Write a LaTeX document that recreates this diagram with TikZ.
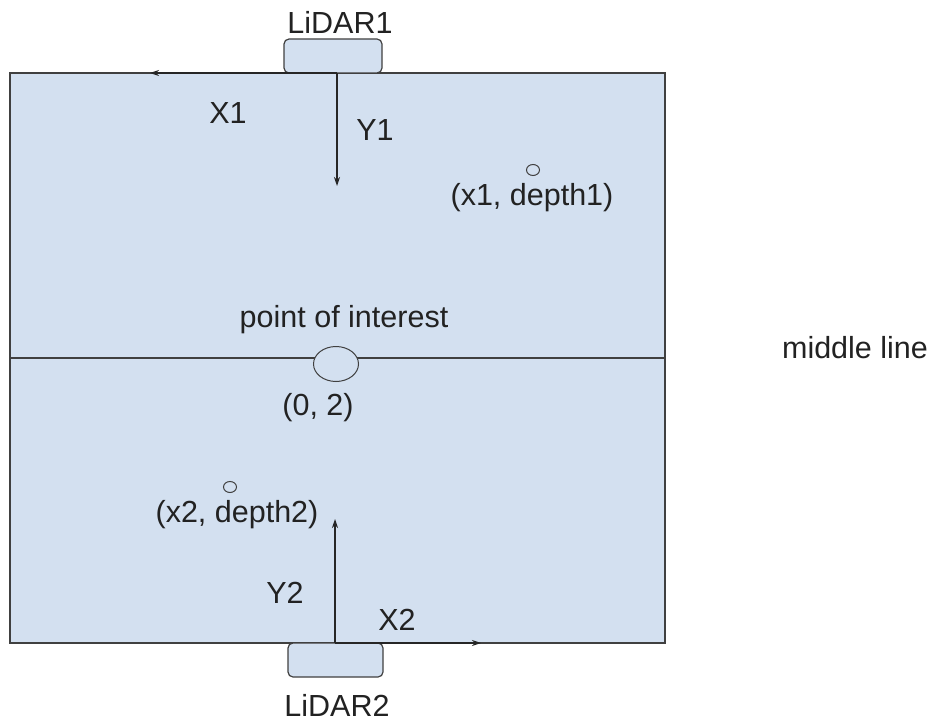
\documentclass[tikz,border=0pt]{standalone}
\usepackage{fontspec}
\setmainfont{Liberation Sans}
\usetikzlibrary{arrows.meta}
\usetikzlibrary{shapes.geometric}
\definecolor{fieldblue}{RGB}{211,224,240}
\definecolor{edgegray}{RGB}{64,64,64}
\definecolor{txt}{RGB}{34,34,34}
\tikzset{
  field/.style={draw=edgegray, fill=fieldblue, line width=1.3pt, inner sep=0pt},
  sensor/.style={draw=edgegray, fill=fieldblue, line width=1.2pt, rounded corners=5pt, inner sep=0pt, minimum height=34pt},
  lbl/.style={inner sep=0pt, text=txt, font=\fontsize{30.5}{36}\selectfont},
  axis/.style={draw=black!85, line width=1.2pt, -{Stealth[length=9pt,width=6pt]}},
  dot/.style={draw=edgegray, line width=1pt, ellipse, inner sep=0pt}
}
\begin{document}
\begin{tikzpicture}[x=1pt,y=-1pt]
\useasboundingbox (0,0) rectangle (936,722);
\node[field, minimum width=655pt, minimum height=570pt] (fld) at (337.5,358) {};
\draw[edgegray, line width=1.3pt] (fld.west) -- (fld.east);
\node[sensor, minimum width=98pt] (lidar1) at (333,56) {};
\node[sensor, minimum width=95pt] (lidar2) at (335.5,660) {};
\node[lbl] (l1) at (340,22) {LiDAR1};
\node[lbl] (l2) at (337,705) {LiDAR2};
\coordinate (o1) at (337,73);
\coordinate (x1e) at (150,73);
\coordinate (y1e) at (337,186);
\draw[axis] (o1) -- (x1e);
\draw[axis] (o1) -- (y1e);
\node[lbl] (x1l) at (228,113) {X1};
\node[lbl] (y1l) at (375,130) {Y1};
\coordinate (o2) at (335,643);
\coordinate (x2e) at (481,643);
\coordinate (y2e) at (335,519);
\draw[axis] (o2) -- (x2e);
\draw[axis] (o2) -- (y2e);
\node[lbl] (x2l) at (397,620) {X2};
\node[lbl] (y2l) at (285,593) {Y2};
\node[dot, minimum width=45pt, minimum height=35pt, fill=fieldblue] (poi) at (336,364) {};
\node[lbl] (poil) at (344,320) {point of interest};
\node[lbl] (poic) at (318,408) {(0, 2)};
\node[dot, minimum width=13pt, minimum height=11pt] (p1) at (533,170) {};
\node[lbl] (p1l) at (532,198) {(x1, depth1)};
\node[dot, minimum width=13pt, minimum height=11pt] (p2) at (230,487) {};
\node[lbl] (p2l) at (237,515) {(x2, depth2)};
\node[lbl] (ml) at (855,348) {middle line};
\end{tikzpicture}
\end{document}
